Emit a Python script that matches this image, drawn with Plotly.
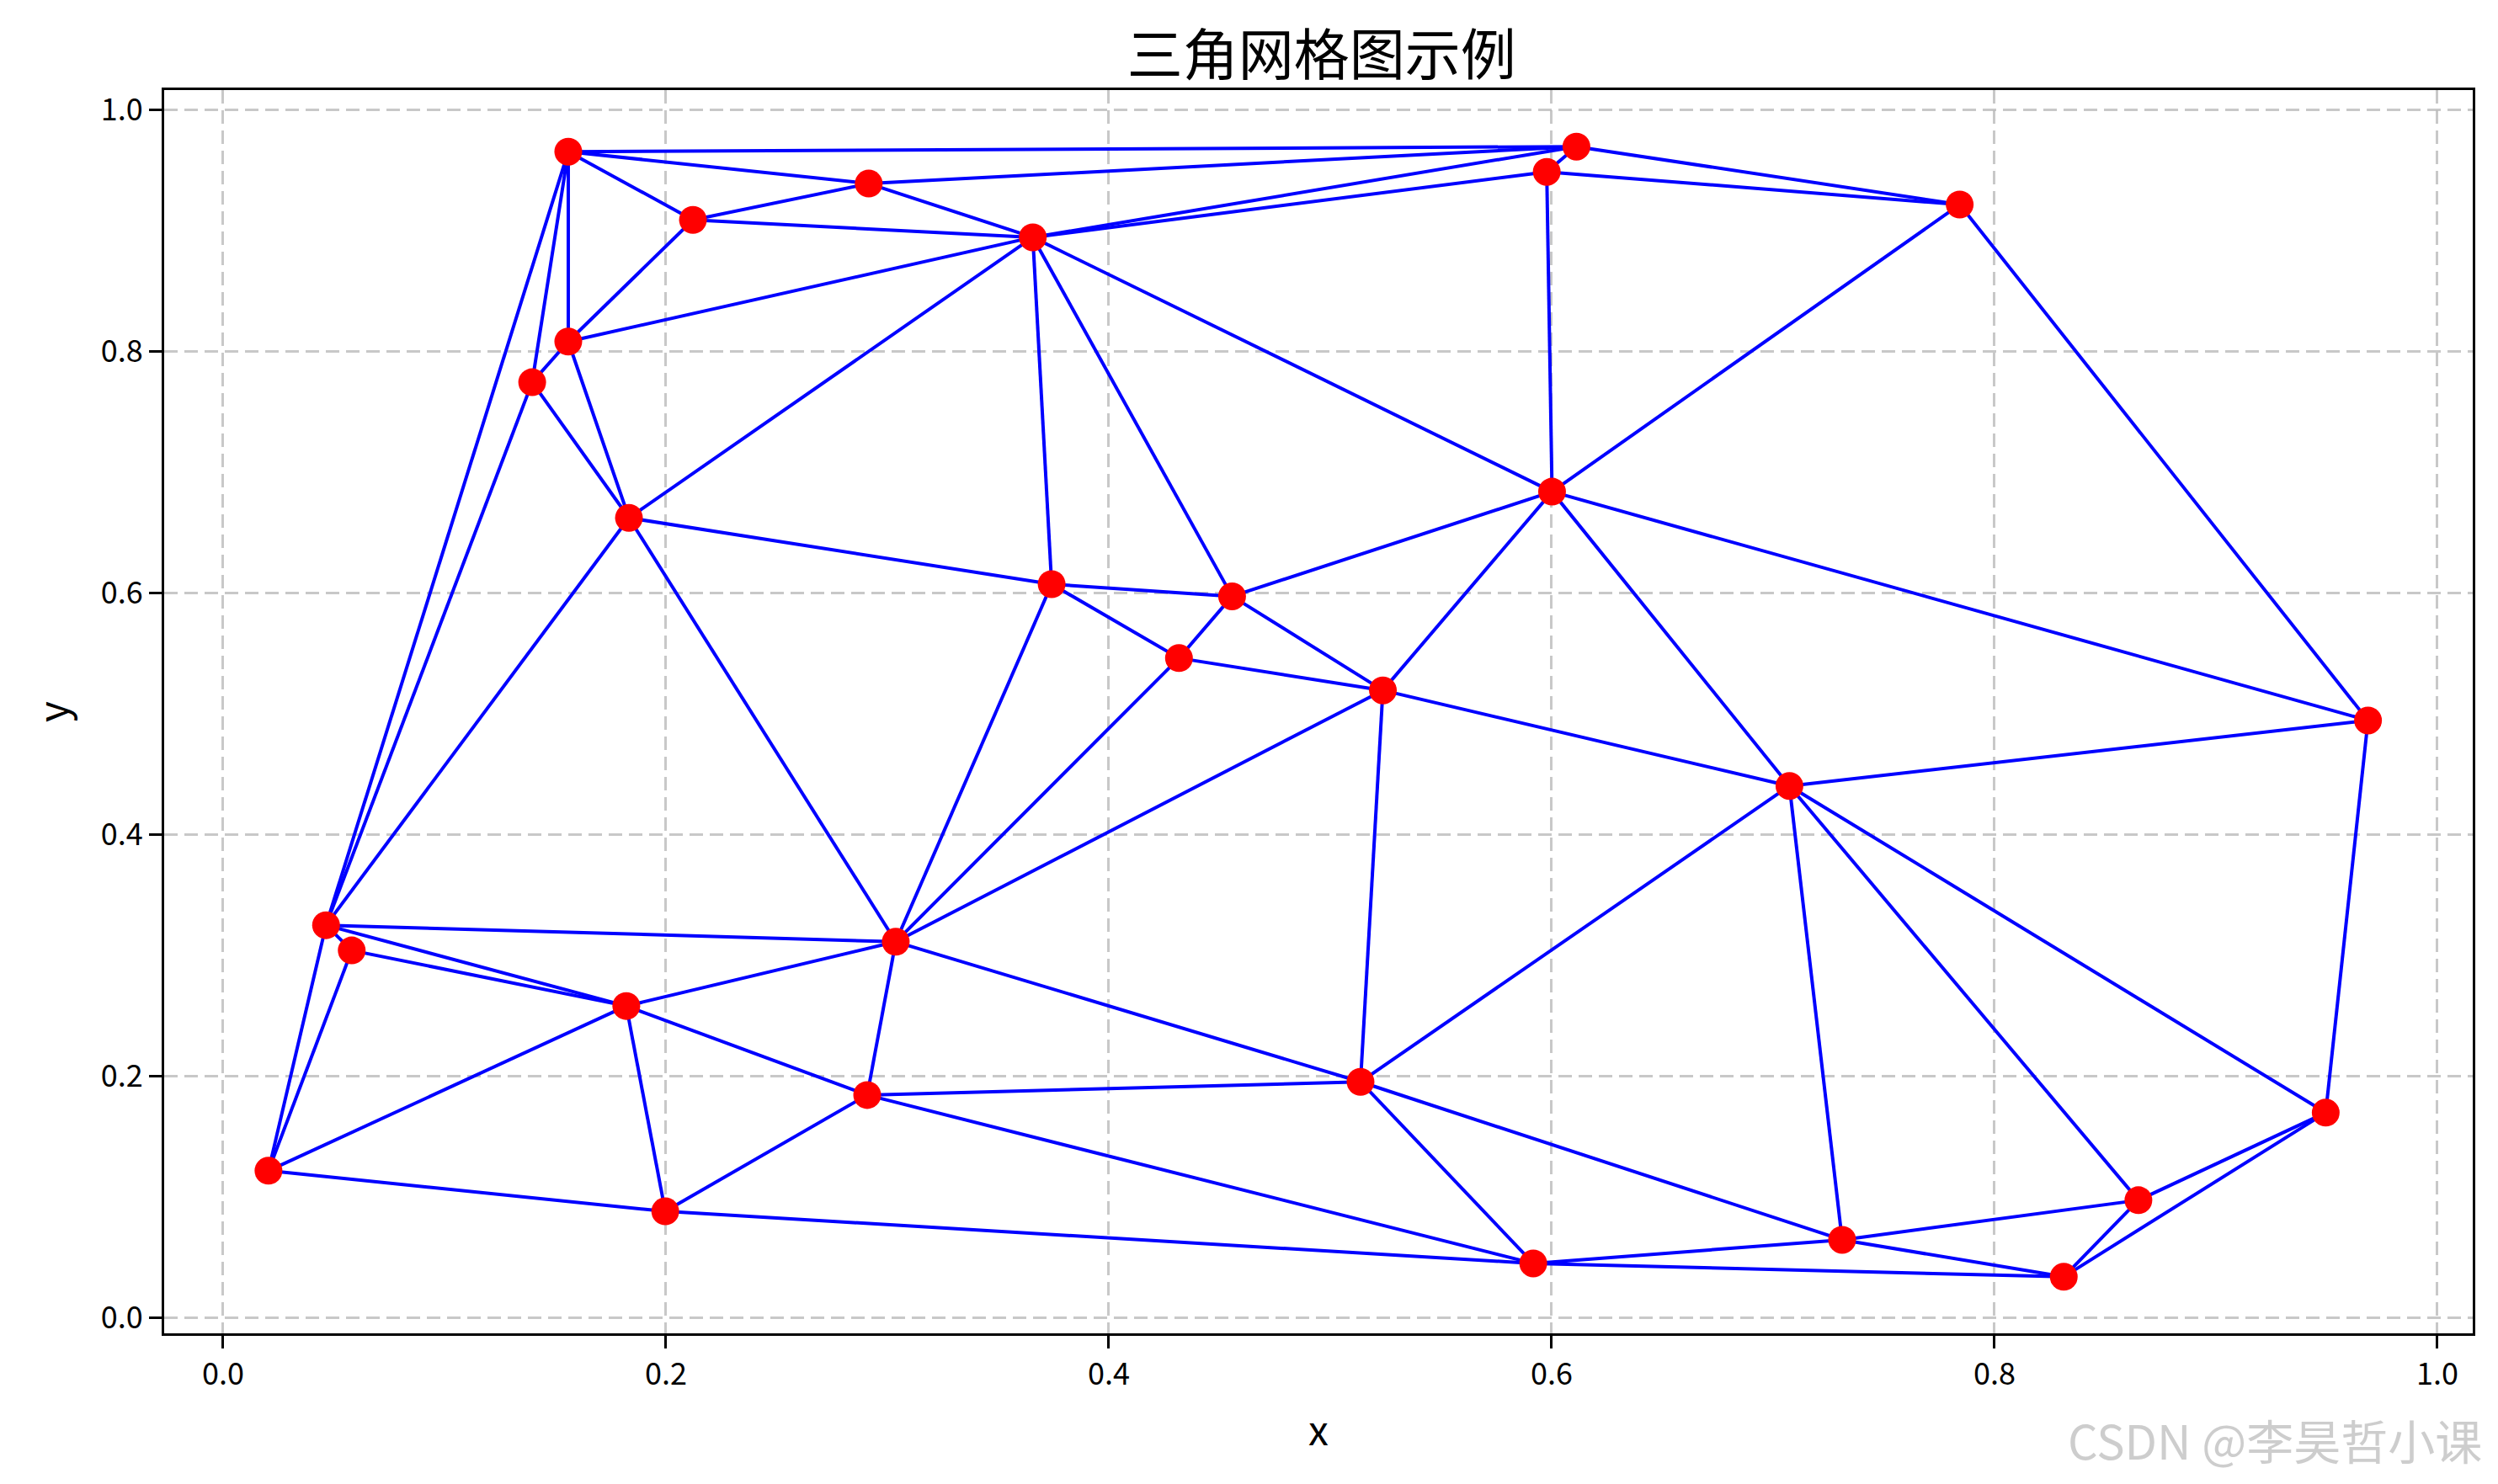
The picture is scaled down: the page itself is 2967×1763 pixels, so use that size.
import plotly.graph_objects as go

# Point coordinates
pts_x = [0.1559, 0.6112, 0.5978, 0.7843, 0.2916, 0.2122, 0.3657, 0.1559, 0.1396, 0.1833,
         0.3742, 0.4557, 0.4317, 0.5238, 0.6002, 0.9687, 0.7074, 0.0465, 0.0581, 0.3038,
         0.1821, 0.0205, 0.1997, 0.2909, 0.5137, 0.5917, 0.7312, 0.8313, 0.8650, 0.9496]
pts_y = [0.9656, 0.9698, 0.9489, 0.9218, 0.9392, 0.9091, 0.8947, 0.8084, 0.7747, 0.6624,
         0.6075, 0.5975, 0.5463, 0.5196, 0.6841, 0.4947, 0.4405, 0.3252, 0.3043, 0.3115,
         0.2583, 0.1219, 0.0883, 0.1846, 0.1955, 0.0452, 0.0647, 0.0341, 0.0975, 0.1700]

# Triangulation edges (1-based point numbers)
edge_a = [1, 1, 1, 1, 1, 1, 2, 2, 2, 2, 3, 3, 3, 4, 4, 5, 5, 6, 6,
          7, 7, 7, 7, 7, 8, 8, 9, 9, 10, 10, 10, 11, 11, 11, 12, 12, 12,
          13, 13, 14, 14, 14, 14, 15, 15, 16, 16, 17, 17, 17, 17,
          18, 18, 18, 18, 19, 19, 20, 20, 20, 21, 21, 21, 22, 23, 23,
          24, 24, 25, 25, 26, 26, 27, 27, 28, 28, 29]
edge_b = [2, 5, 6, 8, 9, 18, 3, 4, 5, 7, 4, 7, 15, 15, 16, 6, 7, 7, 8,
          8, 10, 11, 12, 15, 9, 10, 10, 18, 11, 18, 20, 12, 13, 20, 13, 14, 15,
          14, 20, 15, 17, 20, 25, 16, 17, 17, 30, 25, 27, 29, 30,
          19, 20, 21, 22, 21, 22, 21, 24, 25, 22, 23, 24, 23, 24, 26,
          25, 26, 26, 27, 27, 28, 28, 29, 29, 30, 30]

x_ticks = [0.0, 0.2, 0.4, 0.6, 0.8, 1.0]
y_ticks = [0.0, 0.2, 0.4, 0.6, 0.8, 1.0]

ex, ey = [], []
for a, b in zip(edge_a, edge_b):
    ex += [pts_x[a - 1], pts_x[b - 1], None]
    ey += [pts_y[a - 1], pts_y[b - 1], None]

fig = go.Figure()
fig.add_trace(go.Scatter(x=ex, y=ey, mode="lines",
                         line=dict(color="blue", width=4),
                         hoverinfo="skip", showlegend=False))
fig.add_trace(go.Scatter(x=pts_x, y=pts_y, mode="markers",
                         marker=dict(color="red", size=33, line=dict(width=0)),
                         showlegend=False))

FONT = "Noto Sans CJK SC, Noto Sans, sans-serif"
axis_common = dict(
    showline=True, linecolor="black", linewidth=3, mirror=True,
    ticks="outside", ticklen=15, tickwidth=3, tickcolor="black",
    showgrid=True, gridcolor="rgba(176,176,176,0.7)", gridwidth=2.5,
    griddash="16px,8px", zeroline=False, tickformat=".1f", automargin=False,
    tickfont=dict(family=FONT, size=36, color="black"),
    title_font=dict(family=FONT, size=48, color="black"),
)

fig.update_xaxes(range=[-0.0266, 1.016], tickvals=x_ticks, title_text="x",
                 title_standoff=30, **axis_common)
fig.update_yaxes(range=[-0.0127, 1.0166], tickvals=y_ticks, title_text="y",
                 title_standoff=24, **axis_common)

fig.update_layout(
    width=2959, height=1755,
    margin=dict(l=187, r=30, t=99, b=179, autoexpand=False),
    plot_bgcolor="white", paper_bgcolor="white",
    title=dict(text="三角网格图示例", x=0.5278, xanchor="center", y=0.967, yanchor="middle",
               font=dict(family=FONT, size=66, color="black")),
    annotations=[dict(text="CSDN @李昊哲小课", xref="paper", yref="paper",
                      x=0.8239, y=-0.085, xanchor="left", yanchor="middle",
                      showarrow=False,
                      font=dict(family=FONT, size=56, color="rgba(200,200,200,0.9)"))],
)

fig.write_html("out.html")
